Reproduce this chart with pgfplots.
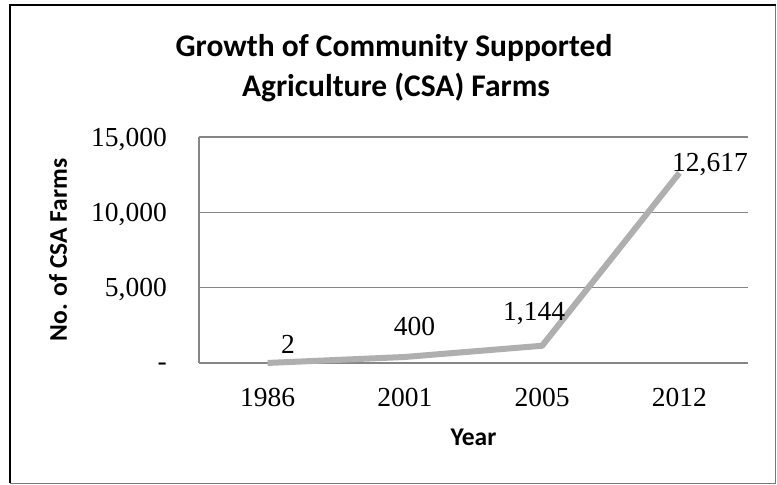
\documentclass[border=0pt]{standalone}
\usepackage{pgfplots}
\pgfplotsset{compat=1.18}
\usepackage{fontspec}
\setmainfont{Liberation Serif}
\newfontfamily\carlito{Carlito}
\definecolor{linegray}{RGB}{175,175,175}
\definecolor{gridgray}{RGB}{134,134,134}
\definecolor{framegray}{RGB}{120,120,120}
\begin{document}
\begin{tikzpicture}[x=1bp,y=1bp]
\useasboundingbox (0,0) rectangle (777,485);
\fill[white] (0,0) rectangle (777,485);
\draw[framegray, line width=1.2bp] (10,1.5) -- (775.5,1.5) -- (775.5,480);
\draw[black, line width=2.6bp] (775.5,480) -- (10,480) -- (10,1.5);
\node[anchor=base, inner sep=0pt, font=\carlito\bfseries\fontsize{31.5bp}{36bp}\selectfont] at (394,428) {Growth of Community Supported};
\node[anchor=base, inner sep=0pt, font=\carlito\bfseries\fontsize{31.5bp}{36bp}\selectfont] at (396,388) {Agriculture (CSA) Farms};
\begin{axis}[
  at={(199bp,122bp)}, anchor=south west,
  scale only axis, width=549bp, height=226bp,
  xmin=-0.5, xmax=3.5, ymin=0, ymax=15000,
  scaled y ticks=false,
  xtick={0,1,2,3}, xticklabels={1986,2001,2005,2012},
  ytick={0,5000,10000,15000},
  yticklabels={{\raisebox{1.9bp}{-}\hspace{11bp}},{5,000},{10,000},{15,000}},
  axis x line*=bottom, axis y line*=left,
  axis line style={gridgray, line width=1.1bp, -},
  ymajorgrids, grid style={gridgray, line width=1.1bp},
  tick style={draw=none}, major tick length=0pt,
  yticklabel style={font=\fontsize{27.5bp}{31bp}\selectfont, anchor=east, inner sep=0pt, xshift=-32bp, text height=18.6bp, text depth=0pt},
  xticklabel style={font=\fontsize{27.5bp}{31bp}\selectfont, anchor=north, inner sep=0pt, yshift=-25bp, text height=18.6bp, text depth=0pt},
  ylabel={No. of CSA Farms},
  ylabel style={font=\carlito\bfseries\fontsize{25.5bp}{30bp}\selectfont, at={(axis description cs:-0.2568,0.5)}, anchor=center, inner sep=0pt, text depth=0pt},
  xlabel={Year},
  xlabel style={font=\carlito\bfseries\fontsize{25.5bp}{30bp}\selectfont, at={(axis description cs:0.5,-0.3296)}, anchor=center, inner sep=0pt, text depth=0pt},
  clip=false,
]
\addplot[linegray, line width=6bp, line join=round] coordinates {(0,2) (1,400) (2,1144) (3,12617)};
\node[anchor=base, inner sep=0pt, font=\fontsize{27.5bp}{31bp}\selectfont, xshift=20.4bp, yshift=9bp] at (axis cs:0,2) {2};
\node[anchor=base, inner sep=0pt, font=\fontsize{27.5bp}{31bp}\selectfont, xshift=9.6bp, yshift=21bp] at (axis cs:1,400) {400};
\node[anchor=base, inner sep=0pt, font=\fontsize{27.5bp}{31bp}\selectfont, xshift=-8bp, yshift=25bp] at (axis cs:2,1144) {1,144};
\node[anchor=base, inner sep=0pt, font=\fontsize{27.5bp}{31bp}\selectfont, xshift=30.6bp, yshift=1.2bp] at (axis cs:3,12617) {12,617};
\end{axis}
\end{tikzpicture}
\end{document}
